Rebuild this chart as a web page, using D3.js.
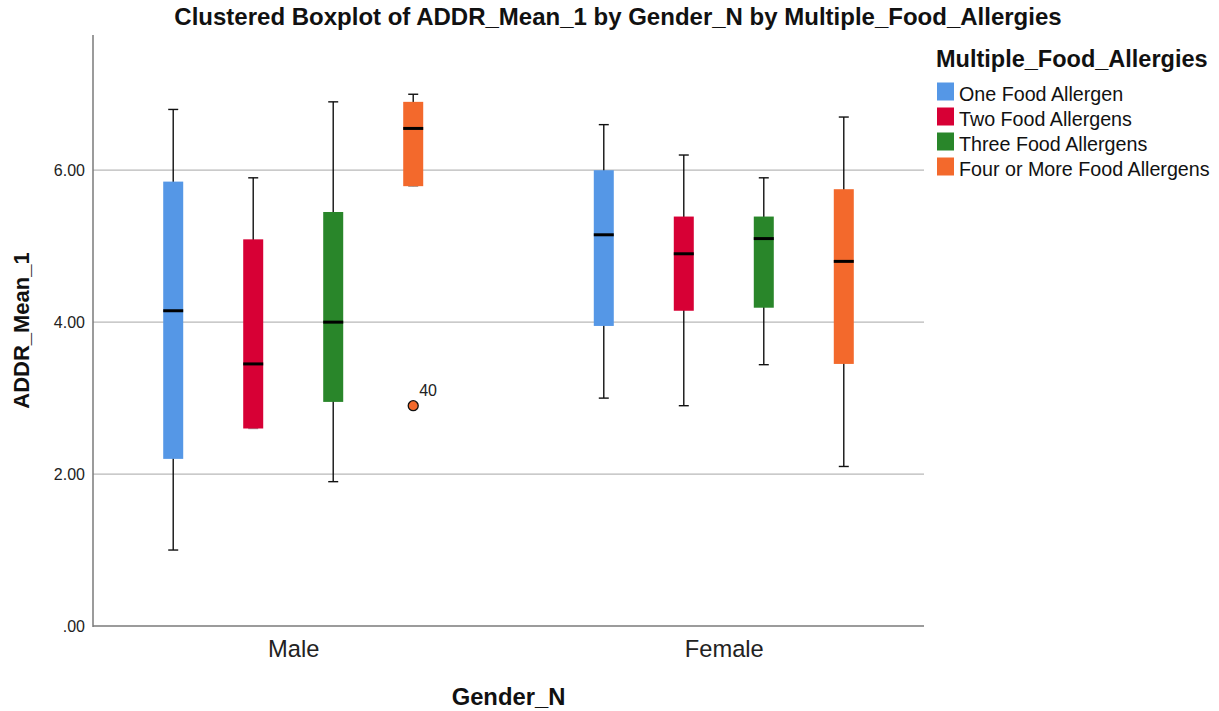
<!DOCTYPE html>
<html>
<head>
<meta charset="utf-8">
<script src="https://cdn.jsdelivr.net/npm/d3@7"></script>
<style>
  html, body { margin: 0; padding: 0; background: #fff; }
  svg { display: block; font-family: "Liberation Sans", Arial, sans-serif; }
</style>
</head>
<body>
<svg id="chart" width="1219" height="711"></svg>
<script>
// ---- Data ----
const categories = ["Male", "Female"];
const seriesNames = ["One Food Allergen", "Two Food Allergens", "Three Food Allergens", "Four or More Food Allergens"];
const seriesColors = ["#5597E6", "#D70035", "#29862A", "#F3692C"];

// values per series, [Male, Female]
const whiskerLow  = [[1.00, 3.00], [2.60, 2.90], [1.90, 3.44], [5.79, 2.10]];
const q1Values    = [[2.20, 3.95], [2.60, 4.15], [2.95, 4.19], [5.79, 3.45]];
const medianValues= [[4.15, 5.15], [3.45, 4.90], [4.00, 5.10], [6.55, 4.80]];
const q3Values    = [[5.85, 6.00], [5.09, 5.39], [5.45, 5.39], [6.90, 5.75]];
const whiskerHigh = [[6.80, 6.60], [5.90, 6.20], [6.90, 5.90], [7.00, 6.70]];

const outlierCategory = ["Male"];
const outlierSeries = ["Four or More Food Allergens"];
const outlierValues = [2.90];
const outlierLabels = ["40"];

const yTickValues = [0, 2, 4, 6];
const yTickLabels = [".00", "2.00", "4.00", "6.00"];
const yMax = 7.78;

const titleText = "Clustered Boxplot of ADDR_Mean_1 by Gender_N by Multiple_Food_Allergies";
const xTitle = "Gender_N";
const yTitle = "ADDR_Mean_1";
const legendTitle = "Multiple_Food_Allergies";

// ---- Layout ----
const plot = { left: 93, right: 924, top: 35, bottom: 626 };
const svg = d3.select("#chart");

const y = d3.scaleLinear().domain([0, yMax]).range([plot.bottom, plot.top]);
const x = d3.scalePoint().domain(categories).range([plot.left, plot.right]).padding(0.465);
const xInner = d3.scalePoint().domain(seriesNames).range([-120, 120]);
const boxW = 20, capW = 10;

// gridlines
svg.append("g").selectAll("line").data(yTickValues.filter(v => v > 0)).join("line")
  .attr("x1", plot.left).attr("x2", plot.right)
  .attr("y1", d => y(d)).attr("y2", d => y(d))
  .attr("stroke", "#b8b8b8").attr("stroke-width", 1.2);

// y axis
const yAxis = d3.axisLeft(y).tickValues(yTickValues)
  .tickFormat((d, i) => yTickLabels[i]).tickSize(0).tickPadding(8);
const gy = svg.append("g").attr("transform", `translate(${plot.left},0)`).call(yAxis);
gy.select(".domain").remove();
gy.selectAll("text").attr("font-size", 16).attr("fill", "#222")
  .attr("font-family", "'Liberation Sans', Arial, sans-serif");

// x axis
const xAxis = d3.axisBottom(x).tickSize(0).tickPadding(14);
const gx = svg.append("g").attr("transform", `translate(0,${plot.bottom})`).call(xAxis);
gx.select(".domain").remove();
gx.selectAll("text").attr("font-size", 23.7).attr("fill", "#222")
  .attr("font-family", "'Liberation Sans', Arial, sans-serif");

// axis lines
svg.append("line").attr("x1", plot.left).attr("x2", plot.left)
  .attr("y1", plot.top).attr("y2", plot.bottom + 1)
  .attr("stroke", "#7a7a7a").attr("stroke-width", 1.5);
svg.append("line").attr("x1", plot.left).attr("x2", plot.right)
  .attr("y1", plot.bottom).attr("y2", plot.bottom)
  .attr("stroke", "#7a7a7a").attr("stroke-width", 1.5);

// boxes
const boxes = [];
seriesNames.forEach((s, si) => {
  categories.forEach((c, ci) => {
    boxes.push({
      cat: c, series: s, color: seriesColors[si],
      lo: whiskerLow[si][ci], q1: q1Values[si][ci], med: medianValues[si][ci],
      q3: q3Values[si][ci], hi: whiskerHigh[si][ci]
    });
  });
});

const g = svg.append("g").selectAll("g").data(boxes).join("g")
  .attr("transform", d => `translate(${x(d.cat) + xInner(d.series)},0)`);

g.append("line").attr("x1", 0).attr("x2", 0)
  .attr("y1", d => y(d.hi)).attr("y2", d => y(d.lo))
  .attr("stroke", "#111").attr("stroke-width", 1.4);
g.append("line").attr("x1", -capW / 2).attr("x2", capW / 2)
  .attr("y1", d => y(d.hi)).attr("y2", d => y(d.hi))
  .attr("stroke", "#111").attr("stroke-width", 1.4);
g.append("line").attr("x1", -capW / 2).attr("x2", capW / 2)
  .attr("y1", d => y(d.lo)).attr("y2", d => y(d.lo))
  .attr("stroke", d => d.lo === d.q1 ? "#999" : "#111").attr("stroke-width", 1.4);
g.append("rect").attr("x", -boxW / 2).attr("width", boxW)
  .attr("y", d => y(d.q3)).attr("height", d => y(d.q1) - y(d.q3))
  .attr("fill", d => d.color);
g.append("line").attr("x1", -boxW / 2).attr("x2", boxW / 2)
  .attr("y1", d => y(d.med)).attr("y2", d => y(d.med))
  .attr("stroke", "#000").attr("stroke-width", 3);

// outliers
const outliers = outlierValues.map((v, i) => ({
  cat: outlierCategory[i], series: outlierSeries[i], value: v, label: outlierLabels[i]
}));
const og = svg.append("g").selectAll("g").data(outliers).join("g")
  .attr("transform", d => `translate(${x(d.cat) + xInner(d.series)},${y(d.value)})`);
og.append("circle").attr("r", 5)
  .attr("fill", d => seriesColors[seriesNames.indexOf(d.series)])
  .attr("stroke", "#111").attr("stroke-width", 1.3);
og.append("text").attr("x", 6).attr("y", -10).text(d => d.label)
  .attr("font-size", 16).attr("fill", "#222");

// titles
svg.append("text").attr("x", 618).attr("y", 25).attr("text-anchor", "middle")
  .attr("font-size", 24).attr("font-weight", "bold").attr("fill", "#111").text(titleText);
svg.append("text").attr("x", (plot.left + plot.right) / 2).attr("y", 705).attr("text-anchor", "middle")
  .attr("font-size", 23.8).attr("font-weight", "bold").attr("fill", "#111").text(xTitle);
svg.append("text").attr("transform", `translate(29,${(plot.top + plot.bottom) / 2}) rotate(-90)`)
  .attr("text-anchor", "middle")
  .attr("font-size", 22).attr("font-weight", "bold").attr("fill", "#111").text(yTitle);

// legend
const lg = svg.append("g").attr("transform", "translate(936,0)");
lg.append("text").attr("x", 0).attr("y", 67).attr("font-size", 23.5).attr("font-weight", "bold")
  .attr("fill", "#111").text(legendTitle);
const li = lg.selectAll("g.item").data(seriesNames).join("g").attr("class", "item")
  .attr("transform", (d, i) => `translate(0,${82.5 + i * 25})`);
li.append("rect").attr("x", 1).attr("y", 0).attr("width", 17).attr("height", 18)
  .attr("fill", (d, i) => seriesColors[i]);
li.append("text").attr("x", 23).attr("y", 18.5).attr("font-size", 19.7).attr("fill", "#111").text(d => d);
</script>
</body>
</html>
